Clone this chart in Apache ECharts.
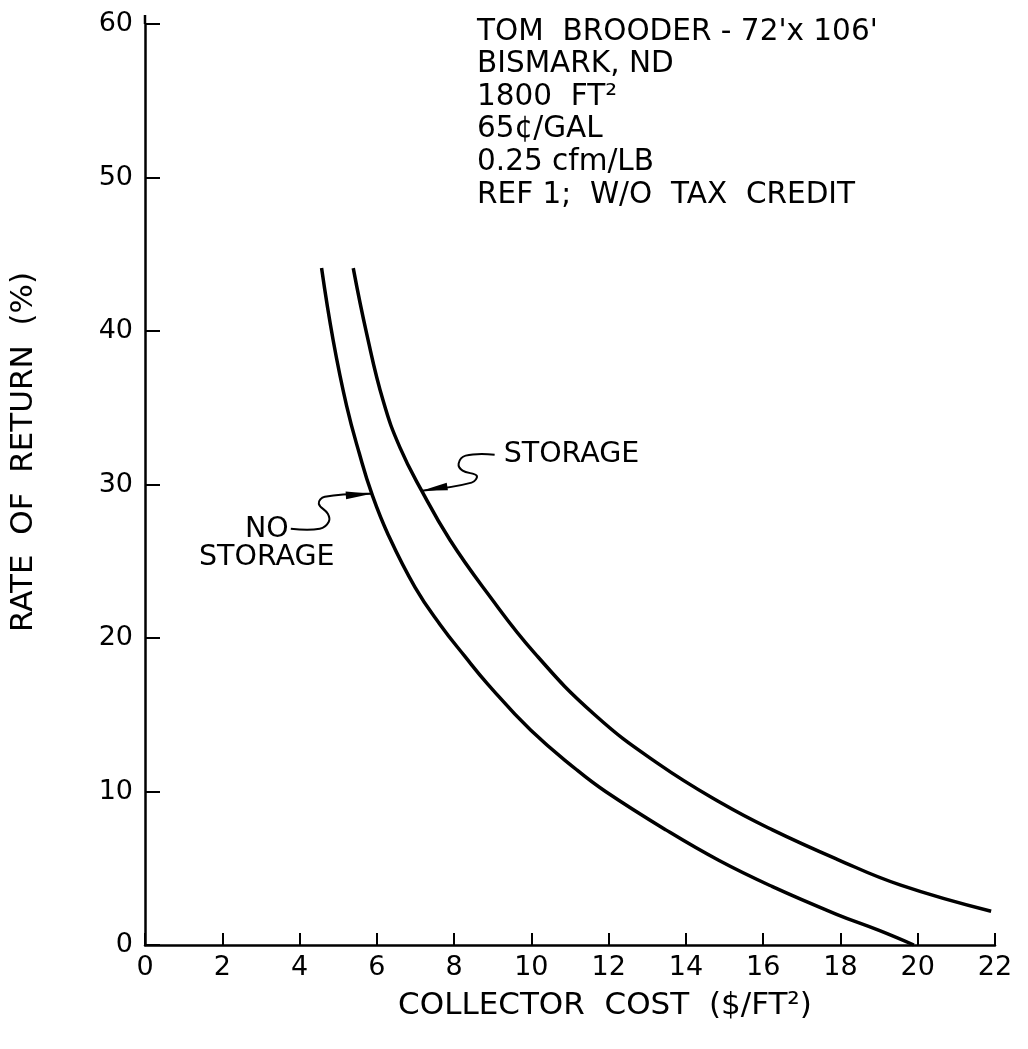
<!DOCTYPE html>
<html>
<head>
<meta charset="utf-8">
<script src="https://cdn.jsdelivr.net/npm/echarts@6/dist/echarts.min.js"></script>
<style>
  html, body { margin: 0; padding: 0; background: #ffffff; }
  #chart { width: 1028px; height: 1049px; }
</style>
</head>
<body>
<div id="chart"></div>
<script>
// Rate of return versus collector cost, Tom Brooder (Bismark, ND)
const FONT = '"DejaVu Sans", Verdana, sans-serif';

// Collector cost ($/ft²) and rate of return (%) – no storage
const noStorageCost   = [4.57, 4.87, 5.22, 5.55, 5.87, 6.30, 6.99, 7.63, 8.28, 8.87, 9.98, 11.18, 11.92, 13.48, 14.86, 16.24, 17.90, 19.00, 19.90];
const noStorageReturn = [44.1, 39.4, 35.1, 32.0, 29.4, 26.7, 23.3, 20.9, 18.8, 17.0, 14.0, 11.4, 10.0, 7.5, 5.5, 3.8, 2.0, 0.95, 0.0];

// Collector cost ($/ft²) and rate of return (%) – with storage
const storageCost   = [5.39, 5.74, 6.17, 6.60, 7.16, 7.89, 8.84, 10.09, 11.64, 13.29, 14.95, 16.24, 17.90, 19.56, 21.90];
const storageReturn = [44.1, 39.8, 35.4, 32.4, 29.6, 26.4, 23.0, 19.0, 15.0, 11.8, 9.2, 7.5, 5.6, 3.9, 2.2];

// Case description printed in the upper right
const headerLines = [
  "TOM  BROODER - 72'x 106'",
  "BISMARK, ND",
  "1800  FT²",
  "65¢/GAL",
  "0.25 cfm/LB",
  "REF 1;  W/O  TAX  CREDIT"
];

const xTitle = 'COLLECTOR  COST  ($/FT²)';
const yTitle = 'RATE  OF  RETURN  (%)';

// Which points of each curve the leader arrows point at
const storageArrowIndex = 4;
const noStorageArrowIndex = 4;

const pairs = (xs, ys) => xs.map((x, i) => [x, ys[i]]);

const chart = echarts.init(document.getElementById('chart'), null, { renderer: 'canvas' });

const axisCommon = {
  axisLine: { show: true, onZero: false, lineStyle: { color: '#000', width: 2.5 } },
  axisTick: { show: true, inside: true, lineStyle: { color: '#000', width: 2 } },
  splitLine: { show: false },
  axisLabel: { color: '#000', fontSize: 27, fontFamily: FONT }
};

const lineStyle = { color: '#000', width: 3.5 };

chart.setOption({
  backgroundColor: '#ffffff',
  animation: false,
  grid: { left: 145, right: 33, top: 24, bottom: 104, containLabel: false },
  xAxis: Object.assign({}, axisCommon, {
    type: 'value', min: 0, max: 22, interval: 2,
    axisTick: Object.assign({}, axisCommon.axisTick, { length: 12 }),
    axisLabel: Object.assign({}, axisCommon.axisLabel, { margin: 9 })
  }),
  yAxis: Object.assign({}, axisCommon, {
    type: 'value', min: 0, max: 60, interval: 10,
    axisTick: Object.assign({}, axisCommon.axisTick, { length: 15 }),
    axisLabel: Object.assign({}, axisCommon.axisLabel, { margin: 12 })
  }),
  series: [
    {
      name: 'NO STORAGE', type: 'line', data: pairs(noStorageCost, noStorageReturn),
      smooth: 0.45, showSymbol: false, lineStyle: lineStyle, silent: true
    },
    {
      name: 'STORAGE', type: 'line', data: pairs(storageCost, storageReturn),
      smooth: 0.45, showSymbol: false, lineStyle: lineStyle, silent: true
    }
  ]
});

// Leader arrows and labels, anchored to points on the curves
function arrowHead(tip, from, len, half) {
  const dx = tip[0] - from[0], dy = tip[1] - from[1];
  const d = Math.hypot(dx, dy);
  const ux = dx / d, uy = dy / d;
  const bx = tip[0] - ux * len, by = tip[1] - uy * len;
  return [tip, [bx - uy * half, by + ux * half], [bx + uy * half, by - ux * half]];
}

const sTip = chart.convertToPixel({ seriesIndex: 1 },
  [storageCost[storageArrowIndex], storageReturn[storageArrowIndex]]);
const nTip = chart.convertToPixel({ seriesIndex: 0 },
  [noStorageCost[noStorageArrowIndex], noStorageReturn[noStorageArrowIndex]]);

const rel = (tip, pts) => pts.map(p => [tip[0] + p[0], tip[1] + p[1]]);

const sPath = rel(sTip, [[73, -36], [44, -35], [37, -27], [41, -20], [55, -15], [50, -8], [0, 0]]);
const nPath = rel(nTip, [[-81, 35], [-52, 35], [-43, 28], [-44, 20], [-53, 10], [-47, 3], [0, 0]]);

const graphics = [];
const stroke = { stroke: '#000', lineWidth: 2, fill: null };

// Short run of the vertical axis past its top tick
const axisTop = chart.convertToPixel({ gridIndex: 0 }, [0, 60]);
graphics.push({ type: 'line', shape: { x1: axisTop[0], y1: axisTop[1], x2: axisTop[0], y2: axisTop[1] - 9 },
  style: { stroke: '#000', lineWidth: 2.5 }, silent: true });

graphics.push({ type: 'polyline', shape: { points: sPath, smooth: 0.4 }, style: stroke, silent: true });
graphics.push({ type: 'polygon', shape: { points: arrowHead(sTip, rel(sTip, [[50, -8]])[0], 26, 3.8) },
  style: { fill: '#000' }, silent: true });
graphics.push({ type: 'polyline', shape: { points: nPath, smooth: 0.4 }, style: stroke, silent: true });
graphics.push({ type: 'polygon', shape: { points: arrowHead(nTip, rel(nTip, [[-47, 3]])[0], 26, 3.8) },
  style: { fill: '#000' }, silent: true });

const labelFont = '28.5px ' + FONT;
graphics.push({
  type: 'text', x: sTip[0] + 82, y: sTip[1] - 36, silent: true,
  style: { text: 'STORAGE', fill: '#000', font: labelFont, align: 'left', verticalAlign: 'middle' }
});
graphics.push({
  type: 'text', x: nTip[0] - 105, y: nTip[1] + 36, silent: true,
  style: { text: 'NO', fill: '#000', font: labelFont, align: 'center', verticalAlign: 'middle' }
});
graphics.push({
  type: 'text', x: nTip[0] - 105, y: nTip[1] + 64, silent: true,
  style: { text: 'STORAGE', fill: '#000', font: labelFont, align: 'center', verticalAlign: 'middle' }
});

// Case description block
headerLines.forEach((line, i) => {
  graphics.push({
    type: 'text', x: 477, y: 32 + i * 32.6, silent: true,
    style: { text: line, fill: '#000', font: '29.5px ' + FONT, align: 'left', verticalAlign: 'middle' }
  });
});

// Axis titles
graphics.push({
  type: 'text', x: 605, y: 1006, silent: true,
  style: { text: xTitle, fill: '#000', font: '31px ' + FONT, align: 'center', verticalAlign: 'middle' }
});
graphics.push({
  type: 'text', x: 24, y: 452, rotation: Math.PI / 2, silent: true,
  style: { text: yTitle, fill: '#000', font: '31px ' + FONT, align: 'center', verticalAlign: 'middle' }
});

chart.setOption({ graphic: graphics });
</script>
</body>
</html>
